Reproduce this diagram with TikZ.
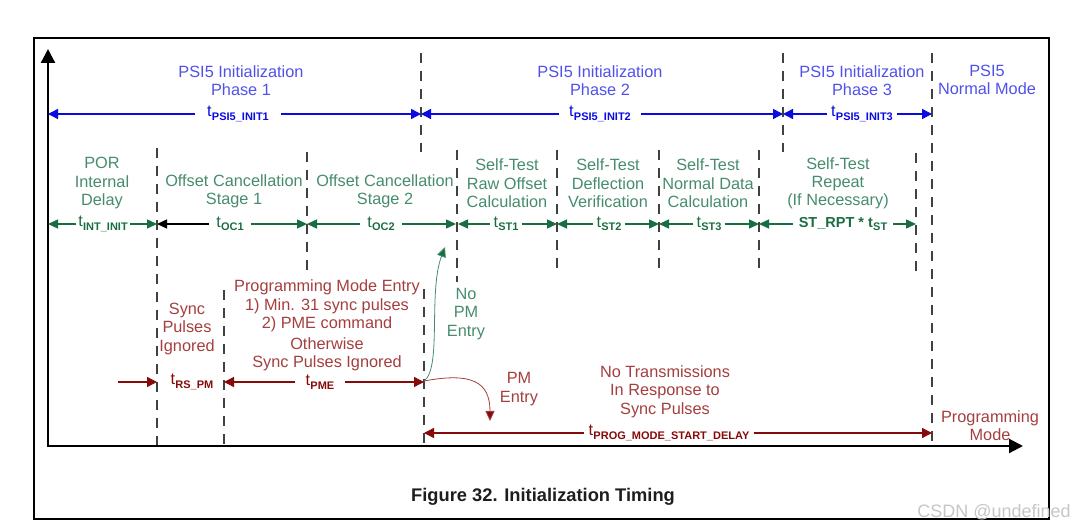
\documentclass[tikz,border=0pt]{standalone}
\usepackage{fontspec}
\setmainfont{Liberation Sans}
\usetikzlibrary{arrows.meta}
\definecolor{blA}{RGB}{10,10,225}
\definecolor{blT}{RGB}{80,80,235}
\definecolor{grA}{RGB}{25,110,65}
\definecolor{grT}{RGB}{70,140,108}
\definecolor{rdA}{RGB}{135,10,10}
\definecolor{rdT}{RGB}{165,62,62}
\definecolor{dsh}{RGB}{65,65,65}
\newcommand{\tlab}[1]{t\kern0.3pt\raisebox{-3.5pt}{\fontsize{11}{11}\selectfont\bfseries #1}}
\begin{document}
\begin{tikzpicture}[x=1pt,y=-1pt,
  txt/.style={font=\fontsize{16.3}{18.3}\selectfont, align=center, inner sep=0pt},
  lbl/.style={font=\fontsize{16.3}{18.3}\selectfont, inner xsep=4pt, inner ysep=1pt},
  bnd/.style={draw=dsh, line width=1.6pt, dash pattern=on 10pt off 8pt},
  ab/.style={draw=blA, line width=1.4pt, -{Triangle[length=10pt,width=10pt]}},
  ag/.style={draw=grA, line width=1.4pt, -{Triangle[length=10pt,width=9pt]}},
  ak/.style={draw=black, line width=1.4pt, -{Triangle[length=10pt,width=9pt]}},
  ar/.style={draw=rdA, line width=1.4pt, -{Triangle[length=10pt,width=10pt]}},
]
\useasboundingbox (0,0) rectangle (1080,529);
% frame
\draw[line width=2pt] (34,38) rectangle (1049,519);
% boundaries
\draw[bnd] (157,148) -- (157,446);
\draw[bnd] (224,290) -- (224,446);
\draw[bnd] (307,152) -- (307,275);
\draw[bnd] (421,53) -- (421,152);
\draw[bnd] (424,289) -- (424,446);
\draw[bnd] (457,150) -- (457,282);
\draw[bnd] (557,150) -- (557,275);
\draw[bnd] (659,150) -- (659,275);
\draw[bnd] (759,150) -- (759,275);
\draw[bnd] (783,53) -- (783,152);
\draw[bnd] (916,153) -- (916,277);
\draw[bnd] (932,53) -- (932,446);
% axes
\draw[line width=2.2pt, {Triangle[length=14pt,width=14pt]}-{Triangle[length=14pt,width=14pt]}] (48,49) -- (48,446) -- (1023,446);
% phase labels
\node[txt, text=blT] (ph1) at (241,80.5) {PSI5 Initialization\\Phase 1};
\node[txt, text=blT] (ph2) at (600,80.5) {PSI5 Initialization\\Phase 2};
\node[txt, text=blT] (ph3) at (862,80.5) {PSI5 Initialization\\Phase 3};
\node[txt, text=blT] (nm) at (987,80) {PSI5\\Normal Mode};
% blue dimensions
\node[lbl, text=blA, inner xsep=12pt] (i1) at (238,114) {\tlab{PSI5\_INIT1}};
\draw[ab] (i1) -- (48,114); \draw[ab] (i1) -- (421,114);
\node[lbl, text=blA, inner xsep=10pt] (i2) at (600,114) {\tlab{PSI5\_INIT2}};
\draw[ab] (i2) -- (421,114); \draw[ab] (i2) -- (783,114);
\node[lbl, text=blA, inner xsep=4pt] (i3) at (862,114) {\tlab{PSI5\_INIT3}};
\draw[ab] (i3) -- (783,114); \draw[ab] (i3) -- (932,114);
% green texts
\node[txt, text=grT] (por) at (102,183.3) {POR\\Internal\\Delay};
\node[txt, text=grT] (oc1) at (234,191) {Offset Cancellation\\Stage 1};
\node[txt, text=grT] (oc2) at (385,191) {Offset Cancellation\\Stage 2};
\node[txt, text=grT] (st1) at (507,183.3) {Self-Test\\Raw Offset\\Calculation};
\node[txt, text=grT] (st2) at (608,183.3) {Self-Test\\Deflection\\Verification};
\node[txt, text=grT] (st3) at (708,183.3) {Self-Test\\Normal Data\\Calculation};
\node[txt, text=grT] (rpt) at (838,183.3) {Self-Test\\Repeat\\(If Necessary)};
% green dimensions
\node[lbl, text=grA, inner xsep=2pt] (gi) at (103,224) {\tlab{INT\_INIT}};
\draw[ag] (gi) -- (48,224); \draw[ag] (gi) -- (157,224);
\node[lbl, text=grA, inner xsep=7pt] (go1) at (230,224) {\tlab{OC1}};
\draw[ak] (go1) -- (157,224); \draw[ag] (go1) -- (307,224);
\node[lbl, text=grA, inner xsep=7pt] (go2) at (381,224) {\tlab{OC2}};
\draw[ag] (go2) -- (307,224); \draw[ag] (go2) -- (456,224);
\node[lbl, text=grA, inner xsep=3pt] (gs1) at (506,224) {\tlab{ST1}};
\draw[ag] (gs1) -- (458,224); \draw[ag] (gs1) -- (557,224);
\node[lbl, text=grA, inner xsep=3pt] (gs2) at (609,224) {\tlab{ST2}};
\draw[ag] (gs2) -- (557,224); \draw[ag] (gs2) -- (659,224);
\node[lbl, text=grA, inner xsep=3pt] (gs3) at (709,224) {\tlab{ST3}};
\draw[ag] (gs3) -- (659,224); \draw[ag] (gs3) -- (759,224);
\node[lbl, text=grA, inner xsep=6pt] (grp) at (843,224) {{\fontsize{14.5}{16}\selectfont\bfseries ST\_RPT * t}\kern0.3pt\raisebox{-3.5pt}{\fontsize{11}{11}\selectfont\bfseries ST}};
\draw[ag] (grp) -- (759,224); \draw[ag] (grp) -- (916,224);
% red texts
\node[txt, text=rdT] (spi) at (187,329) {Sync\\Pulses\\Ignored};
\node[txt, text=rdT] (pme1) at (327,306) {Programming Mode Entry\\1) Min. 31 sync pulses\\2) PME command};
\node[txt, text=rdT] (pme2) at (327,354) {Otherwise\\Sync Pulses Ignored};
\node[txt, text=grT] (nopm) at (466,314) {No\\PM\\Entry};
\node[txt, text=rdT] (pm) at (519,389) {PM\\Entry};
\node[txt, text=rdT] (notx) at (665,391.7) {No Transmissions\\In Response to\\Sync Pulses};
\node[txt, text=rdT] (progm) at (990,425.5) {Programming\\Mode};
% red dimensions
\coordinate (rsin) at (118,382);
\draw[ar] (rsin) -- (157,382);
\node[lbl, text=rdA] (rs) at (192,382) {\tlab{RS\_PM}};
\node[lbl, text=rdA, inner xsep=10pt] (pme) at (320,382) {\tlab{PME}};
\draw[ar] (pme) -- (224,382); \draw[ar] (pme) -- (424,382);
\node[lbl, text=rdA, inner xsep=4pt] (prog) at (669,433) {\tlab{PROG\_MODE\_START\_DELAY}};
\draw[ar] (prog) -- (424,433); \draw[ar] (prog) -- (932,433);
% branch curves
\coordinate (br) at (424,381);
\draw[draw=grT, line width=0.8pt, -{Triangle[length=10pt,width=9pt,fill=grA]}] (br) .. controls (442,368) and (428,292) .. (445,247);
\draw[draw=rdT, line width=0.8pt, -{Triangle[length=10pt,width=9pt,fill=rdA]}] (br) .. controls (472,372) and (490,382) .. (490,421);
% caption
\node[font=\fontsize{18.3}{20}\selectfont\bfseries, text={rgb,255:red,30;green,30;blue,30}] (cap) at (543,497) {Figure 32. Initialization Timing};
\node[font=\fontsize{18}{20}\selectfont, text=gray!45] (wm) at (994,512) {CSDN @undefined};
\end{tikzpicture}
\end{document}
